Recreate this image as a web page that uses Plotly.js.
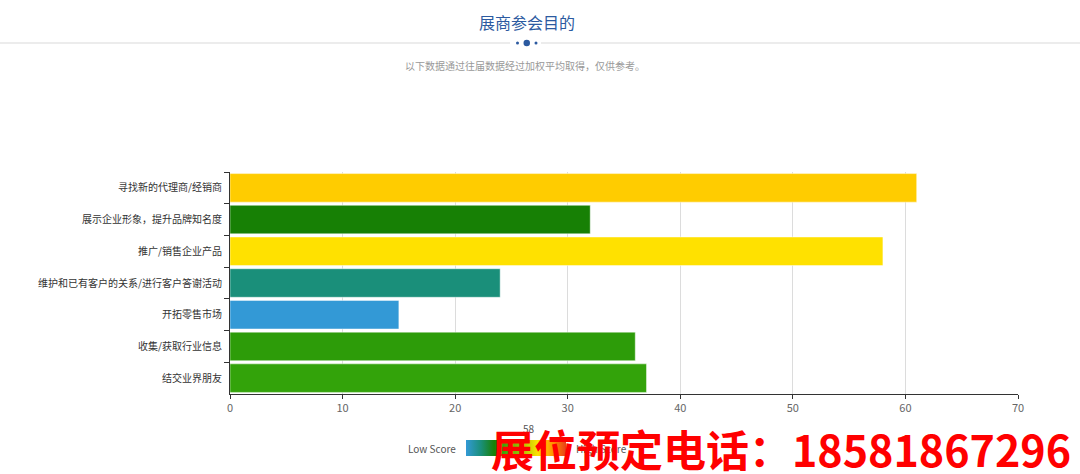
<!DOCTYPE html>
<html>
<head>
<meta charset="utf-8">
<script src="https://cdn.plot.ly/plotly-3.0.1.min.js"></script>
<style>
  html, body { margin: 0; padding: 0; background: #fff; }
  #chart { width: 1080px; height: 474px; }
</style>
</head>
<body>
<div id="chart"></div>
<script>
// 展商参会目的 (加权平均得分)
var purposes = [
    "寻找新的代理商/经销商",
    "展示企业形象，提升品牌知名度",
    "推广/销售企业产品",
    "维护和已有客户的关系/进行客户答谢活动",
    "开拓零售市场",
    "收集/获取行业信息",
    "结交业界朋友"
];
var scores = [61, 32, 58, 24, 15, 36, 37];
var xTicks = [0, 10, 20, 30, 40, 50, 60, 70];

var titleText = "展商参会目的";
var subText = "以下数据通过往届数据经过加权平均取得，仅供参考。";
var hotline = "展位预定电话：18581867296";
var pointerValue = 58;

// plot box in pixels
var W = 1080, H = 474;
var L = 230, R = 62, T = 172, B = 80;
function px(x) { return (x - L) / (W - L - R); }
function py(y) { return (H - B - y) / (H - T - B); }

var scoreScale = [
    [0, "#3399d6"],
    [0.15, "#1a8f7a"],
    [0.283, "#178005"],
    [0.367, "#33a30a"],
    [0.717, "#ffe100"],
    [0.767, "#ffcc00"],
    [0.88, "#ff8c00"],
    [1, "#e8401a"]
];

let trace = {
    type: "bar",
    orientation: "h",
    x: scores,
    y: purposes,
    hoverinfo: "x+y",
    marker: {
        color: scores,
        colorscale: scoreScale,
        cmin: 15,
        cmax: 75,
        line: { color: "rgba(255,255,255,0.45)", width: 1 },
        showscale: true,
        colorbar: {
            orientation: "h",
            lenmode: "pixels",
            len: 100,
            thicknessmode: "pixels",
            thickness: 16,
            xpad: 0,
            ypad: 0,
            x: px(516),
            xanchor: "center",
            y: py(448),
            yanchor: "middle",
            outlinewidth: 0,
            showticklabels: false,
            ticks: ""
        }
    }
};

let dotColor = "#2c5aa0";
let layout = {
    width: W,
    height: H,
    margin: { l: L, r: R, t: T, b: B },
    paper_bgcolor: "#fff",
    plot_bgcolor: "#fff",
    bargap: 0.1,
    showlegend: false,
    font: { family: "'Noto Sans CJK SC', 'Noto Sans', sans-serif", color: "#333", size: 10 },
    xaxis: {
        range: [0, 70],
        tickvals: xTicks,
        showgrid: true,
        gridcolor: "#dcdcdc",
        zeroline: false,
        showline: true,
        linecolor: "#333",
        ticks: "outside",
        ticklen: 4,
        tickcolor: "#333",
        tickfont: { size: 11, color: "#666" },
        fixedrange: true
    },
    yaxis: {
        autorange: "reversed",
        type: "category",
        showline: true,
        linecolor: "#333",
        ticks: "outside",
        tickson: "boundaries",
        ticklen: 5,
        tickcolor: "#333",
        ticklabelstandoff: 5,
        tickfont: { size: 10, color: "#333" },
        showgrid: false,
        fixedrange: true
    },
    shapes: [
        { type: "line", xref: "paper", yref: "paper", x0: px(0), x1: px(510), y0: py(43), y1: py(43),
          line: { color: "#e6e6e6", width: 1.5 } },
        { type: "line", xref: "paper", yref: "paper", x0: px(541), x1: px(1080), y0: py(43), y1: py(43),
          line: { color: "#e6e6e6", width: 1.5 } },
        { type: "circle", xref: "paper", yref: "paper", x0: px(516), x1: px(519), y0: py(44.5), y1: py(41.5),
          fillcolor: dotColor, line: { width: 0 } },
        { type: "circle", xref: "paper", yref: "paper", x0: px(523.5), x1: px(530), y0: py(46.3), y1: py(39.7),
          fillcolor: dotColor, line: { width: 0 } },
        { type: "circle", xref: "paper", yref: "paper", x0: px(534.5), x1: px(537.5), y0: py(44.5), y1: py(41.5),
          fillcolor: dotColor, line: { width: 0 } }
    ],
    annotations: [
        { text: titleText, xref: "paper", yref: "paper", x: px(527), y: py(22), showarrow: false,
          xanchor: "center", yanchor: "middle", font: { size: 16, color: "#2c5aa0" } },
        { text: subText, xref: "paper", yref: "paper", x: px(525), y: py(65), showarrow: false,
          xanchor: "center", yanchor: "middle", font: { size: 10, color: "#999" } },
        { text: "Low Score", xref: "paper", yref: "paper", x: px(458), y: py(448), showarrow: false,
          xanchor: "right", yanchor: "middle", font: { size: 10, color: "#555" } },
        { text: "High Score", xref: "paper", yref: "paper", x: px(574), y: py(448), showarrow: false,
          xanchor: "left", yanchor: "middle", font: { size: 10, color: "#555" } },
        { text: String(pointerValue), xref: "paper", yref: "paper", x: px(529), y: py(428), showarrow: false,
          xanchor: "center", yanchor: "middle", font: { size: 10, color: "#555" } },
        { text: "<b>" + hotline + "</b>", xref: "paper", yref: "paper", x: px(1073), y: py(448), showarrow: false,
          xanchor: "right", yanchor: "middle",
          font: { family: "'Noto Sans CJK SC', sans-serif", size: 43, color: "#ff0000" } }
    ]
};

Plotly.newPlot("chart", [trace], layout, { displayModeBar: false, staticPlot: true });
</script>
</body>
</html>
